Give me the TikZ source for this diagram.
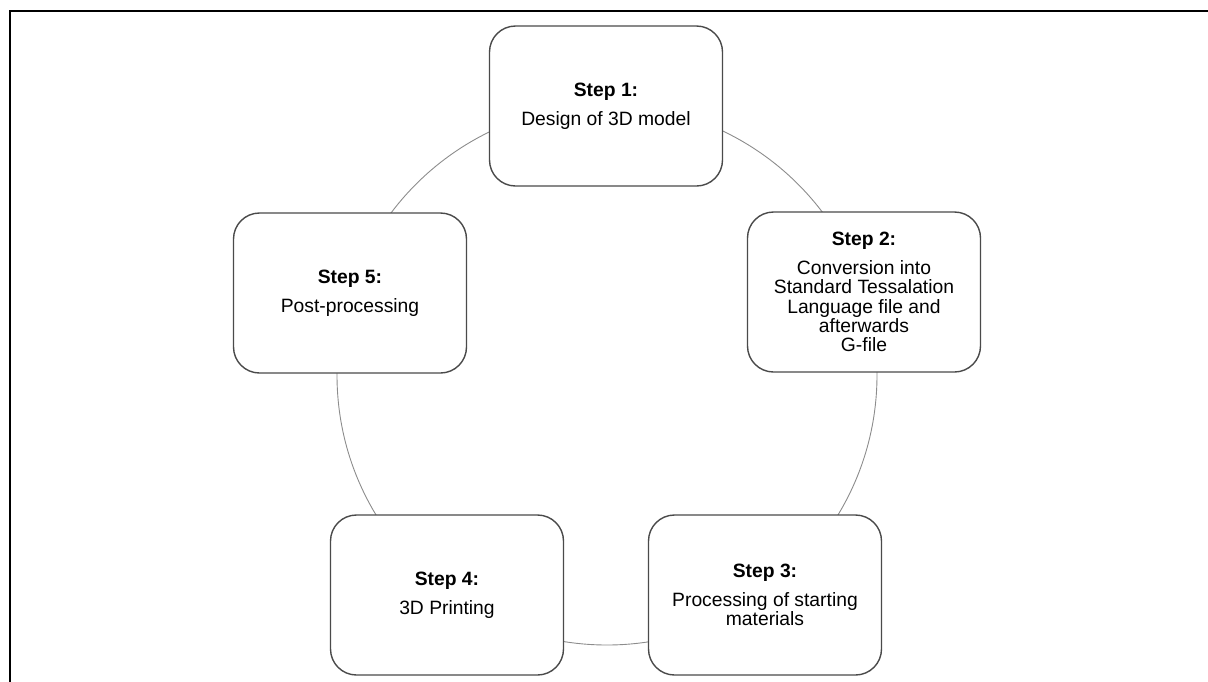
\documentclass[tikz,border=0pt]{standalone}
\usepackage{fontspec}
\setmainfont{Liberation Sans}
\definecolor{boxline}{HTML}{4A4A4A}
\definecolor{ringline}{HTML}{8C8C8C}
\begin{document}
\begin{tikzpicture}[x=1pt,y=-1pt,
  stepbox/.style={draw=boxline, line width=1.4pt, fill=white,
    rounded corners=26pt, minimum width=233pt, minimum height=160pt,
    align=center, inner sep=0pt,
    font=\fontsize{19.3}{19.2}\selectfont},
  ring/.style={draw=ringline, line width=0.9pt},
  frameline/.style={draw=black, line width=2pt}]
\useasboundingbox (0,0) rectangle (1208,681);

% frame along the top and left edges
\draw[frameline] (10,690) -- (10,11) -- (1215,11);

% cycle ring behind the steps
\coordinate (c) at (607,375);
\draw[ring] (c) circle[radius=270];

% the five steps
\node[stepbox] (s1) at (606,106) {\textbf{Step 1:}\\[9.5pt]Design of 3D model};
\node[stepbox] (s2) at (864,292) {\textbf{Step 2:}\\[9.5pt]Conversion into\\Standard Tessalation\\Language file and\\afterwards\\G-file};
\node[stepbox] (s3) at (765,595) {\textbf{Step 3:}\\[9.5pt]Processing of starting\\materials};
\node[stepbox] (s4) at (447,595) {\textbf{Step 4:}\\[9.5pt]3D Printing};
\node[stepbox] (s5) at (350,293) {\textbf{Step 5:}\\[9.5pt]Post-processing};
\end{tikzpicture}
\end{document}
